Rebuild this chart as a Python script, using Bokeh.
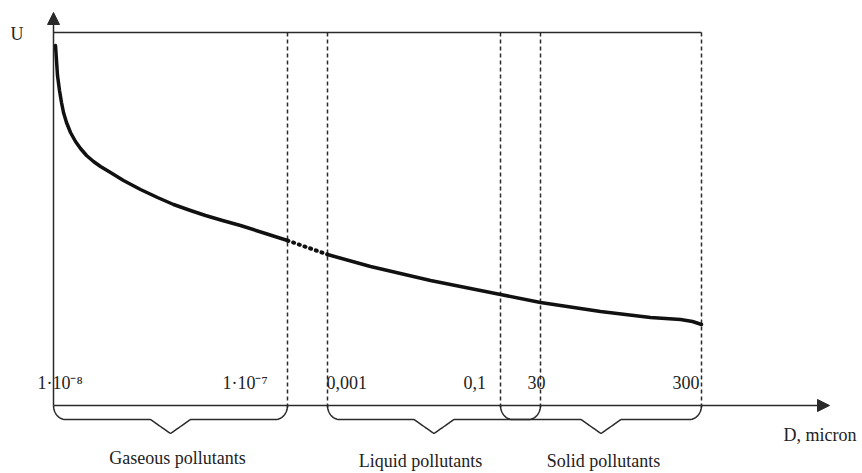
import numpy as np
from bokeh.plotting import figure
from bokeh.models import Range1d, Arrow, NormalHead
from bokeh.core.properties import value
from bokeh.embed import file_html
from bokeh.resources import INLINE

# ---- data (schematic positions along the D axis, U values in the same drawing units) ----
boundary_x = [53, 287, 327, 500, 540, 701]          # 1e-8, 1e-7, 0.001, ~0.1/30 overlap, 30, 300
tick_labels = ["1·10⁻⁸", "1·10⁻⁷", "0,001", "0,1", "30", "300"]
groups = ["Gaseous pollutants", "Liquid pollutants", "Solid pollutants"]
group_start = [53, 327, 500]
group_end = [287, 540, 701]

curve1_x = [55, 56, 57, 59, 61, 63, 66, 70, 75, 80, 86, 93, 100, 110, 123, 140, 157, 173, 190, 205, 222, 240, 265, 287]
curve1_u = [45, 60, 75, 90, 102, 112, 122, 132, 141, 148, 155, 161, 166, 172, 180, 189, 197, 204, 210, 215, 220, 225, 233, 240]
gap_x = [287, 327]
gap_u = [240, 254]
curve2_x = [327, 370, 430, 470, 500, 540, 600, 650, 680, 692, 701]
curve2_u = [254, 266, 280, 288, 294, 302, 311, 317, 319, 321, 324]

# ---- layout constants ----
AX_Y = 405
TOP_Y = 32
X0 = 53

W, H = 862, 473
p = figure(width=W, height=H, output_backend="svg", toolbar_location=None,
           x_range=Range1d(0, W), y_range=Range1d(H, 0),
           min_border=0, outline_line_color=None)
p.axis.visible = False
p.grid.visible = False
p.background_fill_color = "white"

ink = "#2a2a2a"
serif = value("Liberation Serif")
FS = "18px"

# axes with arrows
p.add_layout(Arrow(end=NormalHead(size=12, fill_color=ink, line_color=ink),
                   x_start=X0, y_start=AX_Y, x_end=X0, y_end=12,
                   line_color=ink, line_width=1.5))
p.add_layout(Arrow(end=NormalHead(size=12, fill_color=ink, line_color=ink),
                   x_start=X0, y_start=AX_Y, x_end=829, y_end=AX_Y,
                   line_color=ink, line_width=1.5))

# top horizontal line
p.line([X0, boundary_x[-1]], [TOP_Y, TOP_Y], line_color=ink, line_width=1.5)

# dashed boundaries
for bx in boundary_x[1:]:
    p.line([bx, bx], [TOP_Y, AX_Y + 4], line_color=ink, line_width=1.5, line_dash="4 3")

# curve
p.line(curve1_x, curve1_u, line_color="#111111", line_width=3.5, line_join="round", line_cap="round")
p.line(gap_x, gap_u, line_color="#111111", line_width=4, line_dash="1 5", line_cap="round")
p.line(curve2_x, curve2_u, line_color="#111111", line_width=3.5, line_join="round", line_cap="round")

# braces
def brace(x0, x1, ytop=AX_Y, ymid=419, ytip=433, r=12.0, rt=20.0):
    m = (x0 + x1) / 2.0
    t = np.linspace(0, np.pi / 2, 16)
    xs, ys = [], []
    xs += list(x0 + r * (1 - np.cos(t)));          ys += list(ytop + (ymid - ytop) * np.sin(t))
    xs += list(m - rt * np.cos(t));                ys += list(ymid + (ytip - ymid) * (1 - np.cos(t)))
    tt = t[::-1]
    xs += list(m + rt * np.cos(tt));               ys += list(ymid + (ytip - ymid) * (1 - np.cos(tt)))
    xs += list(x1 - r + r * np.sin(t));            ys += list(ymid - (ymid - ytop) * (1 - np.cos(t)))
    return xs, ys

for s, e in zip(group_start, group_end):
    bx, by = brace(s, e)
    p.line(bx, by, line_color=ink, line_width=1.5)

# tick labels
label_x = [37, 222, 326, 463, 527, 672]
p.text(x=label_x, y=[382] * len(label_x), text=tick_labels, text_font=serif,
       text_font_size=FS, text_color="#222222", text_baseline="middle", text_align="left")

# group labels
group_label_x = [177, 420, 603]
group_label_y = [457, 460, 460]
p.text(x=group_label_x, y=group_label_y, text=groups, text_font=serif,
       text_font_size=FS, text_color="#222222", text_baseline="middle", text_align="center")

# axis titles
p.text(x=[783], y=[434], text=["D, micron"], text_font=serif, text_font_size=FS,
       text_color="#222222", text_baseline="middle", text_align="left")
p.text(x=[10], y=[33], text=["U"], text_font=serif, text_font_size=FS,
       text_color="#222222", text_baseline="middle", text_align="left")

open("out.html", "w").write(file_html(p, INLINE))
